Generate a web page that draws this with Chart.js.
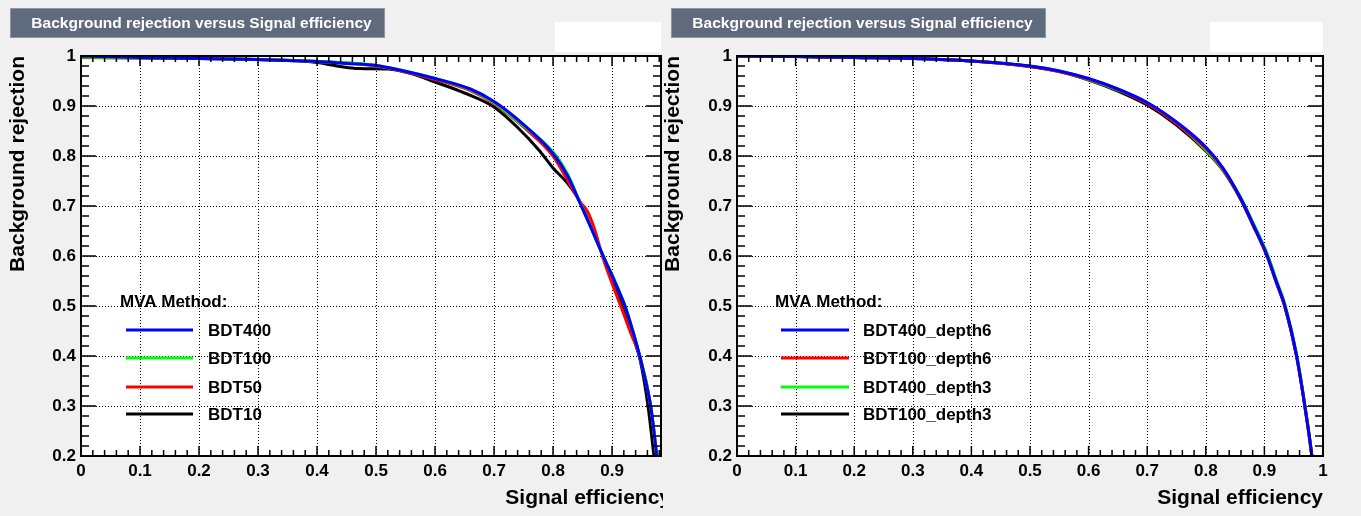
<!DOCTYPE html>
<html>
<head>
<meta charset="utf-8">
<script src="https://cdn.jsdelivr.net/npm/chart.js@4/dist/chart.umd.min.js"></script>
<style>
  html, body { margin: 0; padding: 0; background: #f0f0f0; }
  body { width: 1361px; height: 516px; position: relative; overflow: hidden; }
  .pad { position: absolute; top: 0; height: 516px; }
  #pad-left { left: 0; width: 663px; }
  #pad-right { left: 663px; width: 698px; }
</style>
</head>
<body>
<div class="pad" id="pad-left"><canvas id="roc-left"></canvas></div>
<div class="pad" id="pad-right"><canvas id="roc-right"></canvas></div>
<script>
//ROC curves, left pad: number of trees
const effBDT400 = [0, 0.1, 0.2, 0.3, 0.35, 0.4, 0.45, 0.5, 0.54, 0.6, 0.66, 0.7, 0.74, 0.8, 0.825, 0.846, 0.865, 0.885, 0.905, 0.922, 0.936, 0.947, 0.957, 0.9655, 0.971, 0.9757, 0.985];
const rejBDT400 = [1.0, 0.997, 0.995, 0.993, 0.991, 0.989, 0.985, 0.981, 0.972, 0.955, 0.934, 0.909, 0.873, 0.805, 0.76, 0.705, 0.655, 0.60, 0.548, 0.50, 0.447, 0.40, 0.35, 0.30, 0.25, 0.20, 0.10];
const effBDT100 = [0, 0.1, 0.2, 0.3, 0.4, 0.5, 0.6, 0.66, 0.7, 0.74, 0.8, 0.825, 0.846, 0.865, 0.885, 0.905, 0.922, 0.936, 0.947, 0.9655, 0.9757, 0.985];
const rejBDT100 = [0.998, 0.997, 0.995, 0.993, 0.989, 0.981, 0.955, 0.933, 0.907, 0.870, 0.808, 0.763, 0.706, 0.655, 0.60, 0.55, 0.50, 0.447, 0.40, 0.30, 0.20, 0.10];
const effBDT50 = [0, 0.1, 0.2, 0.3, 0.4, 0.5, 0.6, 0.66, 0.7, 0.75, 0.8, 0.846, 0.858, 0.87, 0.885, 0.905, 0.918, 0.932, 0.947, 0.9655, 0.9757, 0.985];
const rejBDT50 = [0.998, 0.997, 0.995, 0.993, 0.989, 0.980, 0.953, 0.931, 0.905, 0.858, 0.80, 0.708, 0.69, 0.655, 0.595, 0.53, 0.49, 0.445, 0.40, 0.30, 0.20, 0.10];
const effBDT10 = [0, 0.1, 0.2, 0.3, 0.4, 0.44, 0.47, 0.52, 0.56, 0.6, 0.65, 0.7, 0.74, 0.776, 0.8, 0.825, 0.845, 0.865, 0.885, 0.903, 0.918, 0.935, 0.948, 0.961, 0.971, 0.98];
const rejBDT10 = [0.997, 0.996, 0.995, 0.993, 0.987, 0.979, 0.975, 0.974, 0.965, 0.948, 0.926, 0.898, 0.857, 0.812, 0.776, 0.745, 0.71, 0.655, 0.60, 0.55, 0.50, 0.44, 0.39, 0.30, 0.20, 0.10];

//ROC curves, right pad: tree depth
const effRight = [0, 0.1, 0.2, 0.3, 0.4, 0.5, 0.55, 0.6, 0.65, 0.7, 0.75, 0.8, 0.83, 0.861, 0.88, 0.905, 0.92, 0.935, 0.955, 0.969, 0.981, 0.99];
const rejBDT400d6 = [1.0, 0.999, 0.997, 0.995, 0.990, 0.980, 0.970, 0.955, 0.934, 0.907, 0.868, 0.818, 0.775, 0.712, 0.665, 0.600, 0.550, 0.500, 0.400, 0.300, 0.200, 0.100];
const rejBDT100d6 = [1.0, 0.999, 0.997, 0.995, 0.990, 0.979, 0.969, 0.954, 0.933, 0.905, 0.865, 0.815, 0.773, 0.711, 0.664, 0.598, 0.548, 0.498, 0.398, 0.300, 0.200, 0.100];
const rejBDT400d3 = [1.0, 0.999, 0.997, 0.995, 0.990, 0.980, 0.970, 0.953, 0.932, 0.906, 0.866, 0.812, 0.772, 0.714, 0.668, 0.604, 0.554, 0.503, 0.403, 0.302, 0.201, 0.100];
const rejBDT100d3 = [1.0, 0.999, 0.997, 0.995, 0.990, 0.979, 0.969, 0.952, 0.930, 0.902, 0.862, 0.810, 0.770, 0.710, 0.663, 0.599, 0.549, 0.499, 0.400, 0.300, 0.200, 0.100];

const plotTitle = 'Background rejection versus Signal efficiency';
const xTitle = 'Signal efficiency';
const yTitle = 'Background rejection';
const legendHeader = 'MVA Method:';
const xMajorTicks = [0, 0.1, 0.2, 0.3, 0.4, 0.5, 0.6, 0.7, 0.8, 0.9, 1];
const yMajorTicks = [0.2, 0.3, 0.4, 0.5, 0.6, 0.7, 0.8, 0.9, 1];

const FONT = "'Liberation Sans', Arial, Helvetica, sans-serif";

//Zips an efficiency array and a rejection array into chart points
function toPoints(eff, rej){
    return eff.map((e, i) => ({x: e, y: rej[i]}));
}

function curve(label, color, eff, rej){
    return {
        label: label,
        data: toPoints(eff, rej),
        borderColor: color,
        backgroundColor: color,
        borderWidth: 3,
        pointRadius: 0,
        cubicInterpolationMode: 'monotone',
        fill: false
    };
}

function fmt(v){
    return String(+v.toFixed(1));
}

//Draws the pad decorations: title box, white frame, dotted grid, ticks, legend and axis titles
function rootPadPlugin(pad){
    return {
        id: 'rootPad',
        beforeDatasetsDraw(chart){
            const ctx = chart.ctx;
            const a = chart.chartArea;
            const xs = chart.scales.x, ys = chart.scales.y;
            ctx.save();
            //title box
            ctx.fillStyle = '#5f6b7d';
            ctx.fillRect(pad.titleBox[0], pad.titleBox[1], pad.titleBox[2], pad.titleBox[3]);
            ctx.strokeStyle = '#8d96a3';
            ctx.lineWidth = 1;
            ctx.strokeRect(pad.titleBox[0] + 0.5, pad.titleBox[1] + 0.5, pad.titleBox[2] - 1, pad.titleBox[3] - 1);
            ctx.fillStyle = '#ffffff';
            ctx.font = 'bold 15.5px ' + FONT;
            ctx.textAlign = 'center';
            ctx.textBaseline = 'middle';
            ctx.fillText(plotTitle, pad.titleBox[0] + pad.titleBox[2] / 2 + 4, pad.titleBox[1] + pad.titleBox[3] / 2 + 1);
            //empty white box in the corner
            ctx.fillRect(pad.whiteBox[0], pad.whiteBox[1], pad.whiteBox[2], pad.whiteBox[3]);
            //plot area
            ctx.fillRect(a.left, a.top, a.right - a.left, a.bottom - a.top);
            //dotted grid
            ctx.strokeStyle = '#000';
            ctx.lineWidth = 1;
            ctx.setLineDash([1, 2]);
            ctx.beginPath();
            xMajorTicks.forEach(v => {
                if(v <= xs.min || v >= xs.max) return;
                const px = Math.round(xs.getPixelForValue(v)) + 0.5;
                ctx.moveTo(px, a.top);
                ctx.lineTo(px, a.bottom);
            });
            yMajorTicks.forEach(v => {
                if(v <= ys.min || v >= ys.max) return;
                const py = Math.round(ys.getPixelForValue(v)) + 0.5;
                ctx.moveTo(a.left, py);
                ctx.lineTo(a.right, py);
            });
            ctx.stroke();
            ctx.restore();
        },
        afterDatasetsDraw(chart){
            const ctx = chart.ctx;
            const a = chart.chartArea;
            const xs = chart.scales.x, ys = chart.scales.y;
            ctx.save();
            ctx.strokeStyle = '#000';
            ctx.lineWidth = 2;
            ctx.strokeRect(a.left, a.top, a.right - a.left, a.bottom - a.top);
            //inward ticks on all four sides, minor every 0.02
            ctx.lineWidth = 1.5;
            ctx.beginPath();
            for(let i = 0; i <= 50; i++){
                const v = i / 50;
                if(v < xs.min - 1e-9 || v > xs.max + 1e-9) continue;
                const len = i % 5 === 0 ? 10 : 6;
                const px = xs.getPixelForValue(v);
                ctx.moveTo(px, a.bottom); ctx.lineTo(px, a.bottom - len);
                ctx.moveTo(px, a.top); ctx.lineTo(px, a.top + len);
            }
            for(let i = 10; i <= 50; i++){
                const v = i / 50;
                const len = i % 5 === 0 ? 15 : 8;
                const py = ys.getPixelForValue(v);
                ctx.moveTo(a.left, py); ctx.lineTo(a.left + len, py);
                ctx.moveTo(a.right, py); ctx.lineTo(a.right - len, py);
            }
            ctx.stroke();

            //legend
            ctx.fillStyle = '#000';
            ctx.font = 'bold 17px ' + FONT;
            ctx.textAlign = 'left';
            ctx.textBaseline = 'middle';
            ctx.fillText(legendHeader, pad.legend.headerX, pad.legend.headerY);
            chart.data.datasets.forEach((ds, i) => {
                const y = pad.legend.rows[i];
                ctx.strokeStyle = ds.borderColor;
                ctx.lineWidth = 3;
                ctx.beginPath();
                ctx.moveTo(pad.legend.lineX0, y);
                ctx.lineTo(pad.legend.lineX1, y);
                ctx.stroke();
                ctx.fillText(ds.label, pad.legend.labelX, y + 1);
            });

            //axis titles, right aligned like ROOT does
            ctx.font = 'bold 21px ' + FONT;
            ctx.textAlign = 'right';
            ctx.fillText(xTitle, xs.getPixelForValue(1), 498);
            ctx.translate(pad.yTitleX, a.top);
            ctx.rotate(-Math.PI / 2);
            ctx.fillText(yTitle, 0, 0);
            ctx.restore();
        }
    };
}

function makeRocChart(canvasId, pad, datasets){
    return new Chart(canvasId, {
        type: 'line',
        data: { datasets: datasets },
        options: {
            responsive: true,
            maintainAspectRatio: false,
            animation: false,
            layout: { padding: { top: pad.frameTop, right: pad.width - pad.frameRight, left: 0, bottom: 0 } },
            plugins: { legend: { display: false }, tooltip: { enabled: false }, title: { display: false } },
            scales: {
                x: {
                    type: 'linear',
                    min: 0,
                    max: pad.xMax,
                    grid: { display: false, drawTicks: false },
                    border: { display: false },
                    afterBuildTicks: (scale) => {
                        scale.ticks = xMajorTicks.filter(v => v <= pad.xMax + 1e-9).map(v => ({value: v}));
                    },
                    afterFit: (scale) => { scale.height = 516 - pad.frameBottom; },
                    ticks: {
                        autoSkip: false, maxRotation: 0, padding: 5, color: '#000',
                        font: { family: FONT, size: 17, weight: 'bold' },
                        callback: (v) => fmt(v)
                    }
                },
                y: {
                    type: 'linear',
                    min: 0.2,
                    max: 1,
                    grid: { display: false, drawTicks: false },
                    border: { display: false },
                    afterBuildTicks: (scale) => {
                        scale.ticks = yMajorTicks.map(v => ({value: v}));
                    },
                    afterFit: (scale) => { scale.width = pad.frameLeft; },
                    ticks: {
                        autoSkip: false, padding: 5, color: '#000',
                        font: { family: FONT, size: 17, weight: 'bold' },
                        callback: (v) => fmt(v)
                    }
                }
            }
        },
        plugins: [rootPadPlugin(pad)]
    });
}

const leftPad = {
    width: 663, frameLeft: 81, frameRight: 661, frameTop: 56, frameBottom: 456, xMax: 0.983,
    yTitleX: 18, titleBox: [10, 8, 375, 30], whiteBox: [555, 22, 106, 30],
    legend: { headerX: 120, headerY: 302, lineX0: 126, lineX1: 193, labelX: 208, rows: [330, 358, 387, 414] }
};
const rightPad = {
    width: 698, frameLeft: 74, frameRight: 660, frameTop: 56, frameBottom: 456, xMax: 1,
    yTitleX: 10, titleBox: [8, 8, 375, 30], whiteBox: [547, 22, 113, 30],
    legend: { headerX: 112, headerY: 302, lineX0: 118, lineX1: 186, labelX: 200, rows: [330, 358, 387, 414] }
};

const treesChart = makeRocChart('roc-left', leftPad, [
    curve('BDT400', '#0000ff', effBDT400, rejBDT400),
    curve('BDT100', '#00ff00', effBDT100, rejBDT100),
    curve('BDT50', '#ff0000', effBDT50, rejBDT50),
    curve('BDT10', '#000000', effBDT10, rejBDT10)
]);

const depthChart = makeRocChart('roc-right', rightPad, [
    curve('BDT400_depth6', '#0000ff', effRight, rejBDT400d6),
    curve('BDT100_depth6', '#ff0000', effRight, rejBDT100d6),
    curve('BDT400_depth3', '#00ff00', effRight, rejBDT400d3),
    curve('BDT100_depth3', '#000000', effRight, rejBDT100d3)
]);
</script>
</body>
</html>
